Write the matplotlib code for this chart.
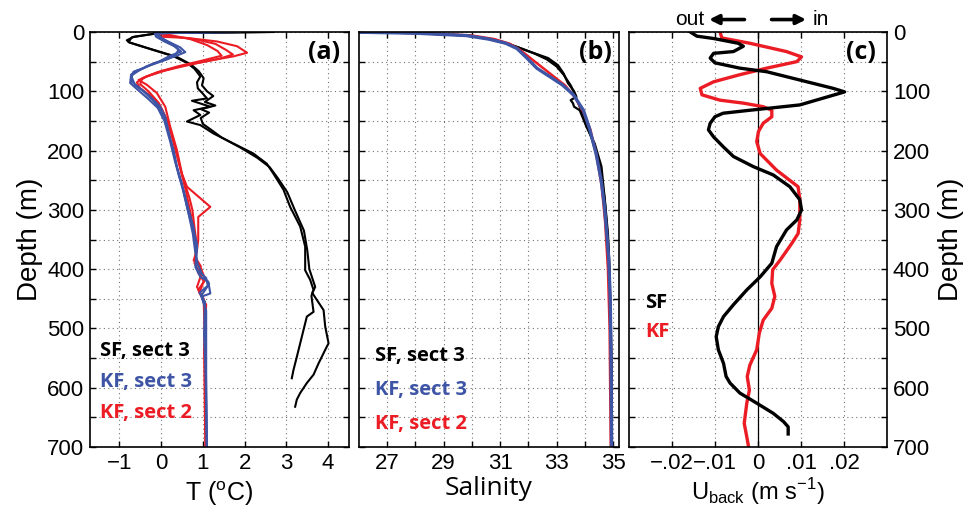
import numpy as np
import matplotlib.pyplot as plt
from matplotlib.ticker import MultipleLocator, FixedLocator, FixedFormatter

RED = '#ec1c24'
BLUE = '#3e55a6'
BLACK = 'k'

# ---- (a) temperature profiles ----
z_t_sf1 = [0, 2, 8, 14, 18, 27, 41, 52, 62, 75, 85, 95, 104, 112, 116, 126, 132, 140, 151, 157, 171, 188, 205, 222, 239, 266, 295, 328, 362, 385, 402, 418, 435, 445, 472, 480, 514, 548, 570, 584]
t_sf1 = [2.70, -0.05, -0.65, -0.82, -0.75, -0.34, 0.30, 0.62, 0.80, 0.94, 0.86, 0.88, 1.00, 1.10, 0.74, 1.18, 0.78, 0.94, 0.62, 0.94, 1.25, 1.73, 2.21, 2.53, 2.69, 2.93, 3.09, 3.33, 3.45, 3.45, 3.45, 3.57, 3.65, 3.60, 3.65, 3.49, 3.37, 3.25, 3.17, 3.13]
z_t_sf2 = [0, 2, 9, 17, 28, 42, 55, 66, 78, 90, 100, 108, 118, 124, 130, 136, 145, 155, 165, 178, 195, 212, 228, 245, 270, 300, 335, 368, 400, 430, 440, 452, 469, 497, 525, 536, 559, 578, 592, 609, 620, 632]
t_sf2 = [2.60, -0.10, -0.70, -0.78, -0.28, 0.38, 0.72, 0.90, 1.02, 0.98, 1.10, 1.25, 1.05, 1.30, 0.95, 1.15, 0.95, 1.00, 1.20, 1.45, 1.90, 2.30, 2.60, 2.78, 3.02, 3.20, 3.42, 3.50, 3.55, 3.69, 3.62, 3.73, 3.89, 3.93, 4.01, 3.93, 3.77, 3.65, 3.49, 3.33, 3.25, 3.21]

z_t_kf3a = [0, 2, 5, 10, 15, 26, 34, 42, 53, 61, 67, 75, 84, 95, 109, 126, 143, 171, 199, 227, 256, 295, 328, 357, 368, 396, 413, 421, 441, 446, 466, 508, 564, 700]
t_kf3a = [1.90, -0.05, -0.10, 0.00, 0.14, 0.46, 0.58, 0.30, -0.18, -0.42, -0.66, -0.70, -0.70, -0.50, -0.26, -0.02, 0.10, 0.18, 0.30, 0.38, 0.50, 0.62, 0.74, 0.86, 0.86, 0.82, 0.94, 1.13, 1.18, 0.98, 1.06, 1.03, 1.06, 1.10]
z_t_kf3b = [0, 2, 6, 12, 20, 30, 38, 46, 56, 66, 72, 80, 90, 100, 115, 130, 150, 180, 210, 240, 270, 300, 330, 360, 380, 400, 415, 428, 440, 455, 480, 550, 700]
t_kf3b = [1.50, -0.10, -0.05, 0.05, 0.25, 0.42, 0.35, 0.15, -0.25, -0.60, -0.72, -0.68, -0.62, -0.42, -0.20, -0.02, 0.12, 0.22, 0.32, 0.42, 0.55, 0.66, 0.78, 0.84, 0.84, 0.85, 1.08, 1.12, 0.92, 1.05, 1.04, 1.07, 1.10]
z_t_kf3c = [0, 3, 8, 16, 25, 33, 40, 50, 58, 66, 74, 86, 98, 112, 128, 150, 185, 220, 260, 300, 340, 372, 392, 408, 425, 445, 470, 600, 700]
t_kf3c = [0.60, -0.15, -0.12, 0.08, 0.35, 0.48, 0.22, -0.05, -0.35, -0.55, -0.72, -0.74, -0.55, -0.32, -0.08, 0.08, 0.22, 0.34, 0.50, 0.64, 0.76, 0.82, 0.88, 0.98, 1.15, 0.96, 1.08, 1.08, 1.09]

z_t_kf2a = [0, 8, 10, 16, 24, 35, 41, 49, 58, 67, 75, 81, 89, 103, 126, 160, 199, 239, 261, 295, 312, 351, 368, 385, 396, 418, 435, 458, 536, 700]
t_kf2a = [-0.10, 0.00, 0.62, 1.34, 1.82, 2.06, 1.74, 1.10, 0.46, -0.02, -0.34, -0.54, -0.34, -0.10, 0.10, 0.22, 0.38, 0.50, 0.62, 1.18, 0.89, 0.89, 0.86, 0.78, 0.94, 1.06, 0.89, 1.06, 1.03, 1.06]
z_t_kf2b = [0, 6, 12, 20, 30, 38, 45, 55, 65, 75, 85, 95, 110, 130, 160, 200, 240, 280, 300, 330, 360, 380, 395, 405, 420, 440, 460, 500, 600, 700]
t_kf2b = [-0.10, 0.10, 0.80, 1.30, 1.55, 1.72, 1.40, 0.70, 0.10, -0.35, -0.58, -0.50, -0.20, 0.02, 0.20, 0.35, 0.50, 0.68, 0.75, 0.80, 0.86, 0.82, 0.95, 0.88, 1.02, 0.92, 1.08, 1.05, 1.06, 1.08]
z_t_kf2c = [0, 5, 12, 22, 32, 40, 48, 58, 68, 78, 88, 100, 120, 150, 190, 230, 270, 310, 350, 375, 390, 410, 430, 450, 520, 700]
t_kf2c = [0.00, 0.20, 0.70, 1.10, 1.35, 1.45, 1.00, 0.40, -0.10, -0.45, -0.50, -0.30, -0.05, 0.15, 0.32, 0.46, 0.60, 0.72, 0.80, 0.84, 0.80, 0.96, 0.86, 1.02, 1.05, 1.07]

# ---- (b) salinity profiles ----
z_s_sf1 = [0, 2, 6, 12, 19, 26, 34, 44, 56, 70, 86, 100, 109, 115, 120, 126, 132, 160, 188, 227, 283, 340, 400, 500, 584]
s_sf1 = [25.5, 28.0, 29.8, 30.6, 31.2, 31.65, 32.1, 32.7, 33.05, 33.25, 33.4, 33.62, 33.70, 33.50, 33.58, 33.62, 33.82, 34.06, 34.35, 34.59, 34.71, 34.82, 34.88, 34.92, 34.92]
z_s_sf2 = [0, 2, 6, 12, 20, 28, 36, 46, 58, 72, 90, 105, 118, 130, 150, 180, 220, 280, 350, 450, 550, 632]
s_sf2 = [25.5, 28.1, 29.9, 30.7, 31.3, 31.75, 32.2, 32.65, 33.0, 33.25, 33.5, 33.65, 33.75, 33.85, 34.0, 34.25, 34.5, 34.7, 34.82, 34.9, 34.95, 34.96]
z_s_kf3 = [0, 2, 6, 12, 19, 28, 44, 61, 75, 89, 106, 132, 160, 205, 250, 295, 340, 384, 450, 550, 700]
s_kf3 = [25.5, 28.0, 29.8, 30.6, 31.2, 31.6, 31.95, 32.3, 32.75, 33.2, 33.6, 33.95, 34.15, 34.4, 34.58, 34.7, 34.78, 34.85, 34.9, 34.93, 34.95]
z_s_kf2 = [0, 2, 6, 12, 20, 30, 45, 60, 75, 90, 110, 135, 165, 210, 260, 320, 400, 500, 600, 700]
s_kf2 = [25.8, 28.3, 30.0, 30.8, 31.35, 31.7, 32.1, 32.5, 32.9, 33.3, 33.65, 33.95, 34.2, 34.42, 34.6, 34.72, 34.82, 34.88, 34.9, 34.92]

# ---- (c) background velocity ----
z_u_sf = [0, 7, 11, 19, 24, 33, 36, 44, 52, 61, 67, 81, 95, 101, 105, 123, 132, 137, 143, 154, 165, 177, 194, 210, 227, 241, 261, 283, 300, 317, 334, 362, 390, 413, 435, 460, 480, 497, 514, 536, 559, 581, 592, 609, 626, 643, 657, 666, 678]
u_sf = [-0.0157, -0.0142, -0.0103, -0.0046, -0.0034, -0.0057, -0.0103, -0.0111, -0.0100, -0.0042, 0.0020, 0.0097, 0.0174, 0.0201, 0.0182, 0.0097, -0.0019, -0.0081, -0.0100, -0.0111, -0.0115, -0.0103, -0.0080, -0.0057, -0.0011, 0.0035, 0.0074, 0.0097, 0.0101, 0.0090, 0.0066, 0.0043, 0.0032, 0.0005, -0.0026, -0.0057, -0.0080, -0.0092, -0.0097, -0.0092, -0.0080, -0.0074, -0.0065, -0.0042, -0.0003, 0.0035, 0.0059, 0.0070, 0.0070]
z_u_kf = [0, 10, 19, 33, 42, 50, 61, 72, 84, 95, 106, 115, 120, 126, 132, 143, 154, 168, 185, 205, 233, 261, 283, 317, 340, 357, 385, 401, 424, 446, 466, 486, 508, 536, 562, 581, 604, 626, 660, 683, 699]
u_kf = [-0.0088, -0.0084, -0.0019, 0.0066, 0.0101, 0.0090, 0.0020, -0.0042, -0.0103, -0.0134, -0.0130, -0.0088, -0.0034, 0.0012, 0.0032, 0.0032, 0.0012, 0.0001, -0.0003, 0.0005, 0.0043, 0.0093, 0.0097, 0.0097, 0.0093, 0.0078, 0.0051, 0.0034, 0.0032, 0.0039, 0.0032, 0.0012, 0.0003, -0.0003, -0.0019, -0.0025, -0.0020, -0.0026, -0.0032, -0.0026, -0.0022]

u_ticks = [-0.02, -0.01, 0, 0.01, 0.02]
u_ticklabels = ['\u2212.02', '\u2212.01', '0', '.01', '.02']

plt.rcParams['font.family'] = ['Liberation Sans', 'DejaVu Sans']
plt.rcParams['font.size'] = 16
plt.rcParams['axes.linewidth'] = 1.2
plt.rcParams['mathtext.fontset'] = 'custom'
plt.rcParams['mathtext.rm'] = 'Liberation Sans'

LBL = dict(family='Open Sans', fontweight='bold', fontsize=14.5)
PANEL = dict(family='Open Sans', fontweight='bold', fontsize=18, ha='right', va='center')

fig = plt.figure(figsize=(9.65, 5.07), dpi=100)
ax_a = fig.add_axes([0.0933, 0.1183, 0.2684, 0.8186])
ax_b = fig.add_axes([0.3720, 0.1183, 0.2691, 0.8186])
ax_c = fig.add_axes([0.6515, 0.1183, 0.2680, 0.8186])


def style_axis(ax):
    ax.set_ylim(700, 0)
    ax.yaxis.set_major_locator(MultipleLocator(100))
    ax.yaxis.set_minor_locator(MultipleLocator(50))
    ax.tick_params(which='both', direction='in', top=True, right=True,
                   length=4, width=1.0, pad=4, labelsize=16)
    ax.grid(True, which='both', ls=(0, (1, 3)), color='0.45', lw=0.8)
    ax.set_axisbelow(True)


# (a)
style_axis(ax_a)
for z, t in [(z_t_sf1, t_sf1), (z_t_sf2, t_sf2)]:
    ax_a.plot(t, z, color=BLACK, lw=1.5)
for z, t in [(z_t_kf2a, t_kf2a), (z_t_kf2b, t_kf2b), (z_t_kf2c, t_kf2c)]:
    ax_a.plot(t, z, color=RED, lw=1.5)
for z, t in [(z_t_kf3a, t_kf3a), (z_t_kf3b, t_kf3b), (z_t_kf3c, t_kf3c)]:
    ax_a.plot(t, z, color=BLUE, lw=1.5)
ax_a.set_xlim(-1.7, 4.5)
ax_a.xaxis.set_major_locator(FixedLocator([-1, 0, 1, 2, 3, 4]))
ax_a.xaxis.set_major_formatter(FixedFormatter(['\u22121', '0', '1', '2', '3', '4']))
ax_a.set_xlabel('T ($^{\\mathrm{o}}$C)', fontsize=18, labelpad=4)
ax_a.set_ylabel('Depth (m)', fontsize=20, labelpad=3)
ax_a.text(0.965, 0.95, '(a)', transform=ax_a.transAxes, **PANEL)
ax_a.text(0.04, 0.232, 'SF, sect 3', transform=ax_a.transAxes, color=BLACK, va='center', **LBL)
ax_a.text(0.04, 0.156, 'KF, sect 3', transform=ax_a.transAxes, color=BLUE, va='center', **LBL)
ax_a.text(0.04, 0.082, 'KF, sect 2', transform=ax_a.transAxes, color=RED, va='center', **LBL)

# (b)
style_axis(ax_b)
ax_b.plot(s_sf1, z_s_sf1, color=BLACK, lw=1.6)
ax_b.plot(s_sf2, z_s_sf2, color=BLACK, lw=1.6)
ax_b.plot(s_kf2, z_s_kf2, color=RED, lw=1.8)
ax_b.plot(s_kf3, z_s_kf3, color=BLUE, lw=2.4)
ax_b.set_xlim(26, 35.2)
ax_b.xaxis.set_major_locator(FixedLocator([27, 29, 31, 33, 35]))
ax_b.xaxis.set_minor_locator(FixedLocator([28, 30, 32, 34]))
ax_b.set_yticklabels([])
ax_b.set_xlabel('Salinity', family='Open Sans', fontsize=19, labelpad=2)
ax_b.text(0.975, 0.95, '(b)', transform=ax_b.transAxes, **PANEL)
ax_b.text(0.06, 0.219, 'SF, sect 3', transform=ax_b.transAxes, color=BLACK, va='center', **LBL)
ax_b.text(0.06, 0.137, 'KF, sect 3', transform=ax_b.transAxes, color=BLUE, va='center', **LBL)
ax_b.text(0.06, 0.055, 'KF, sect 2', transform=ax_b.transAxes, color=RED, va='center', **LBL)

# (c)
style_axis(ax_c)
ax_c.axvline(0, color='k', lw=0.9)
ax_c.plot(u_kf, z_u_kf, color=RED, lw=2.4)
ax_c.plot(u_sf, z_u_sf, color=BLACK, lw=2.4)
ax_c.set_xlim(-0.03, 0.03)
ax_c.xaxis.set_major_locator(FixedLocator(u_ticks))
ax_c.xaxis.set_major_formatter(FixedFormatter(u_ticklabels))
ax_c.yaxis.tick_right()
ax_c.tick_params(which='both', left=True)
ax_c.yaxis.set_label_position('right')
ax_c.set_ylabel('Depth (m)', fontsize=20, labelpad=6)
ax_c.set_xlabel('U$_{\\mathrm{back}}$ (m s$^{\\mathrm{-1}}$)', fontsize=17, labelpad=2)
ax_c.text(0.955, 0.95, '(c)', transform=ax_c.transAxes, **PANEL)
ax_c.text(0.065, 0.347, 'SF', transform=ax_c.transAxes, color=BLACK, va='center', **LBL)
ax_c.text(0.065, 0.277, 'KF', transform=ax_c.transAxes, color=RED, va='center', **LBL)

# flow direction arrows above panel (c)
ytop = 1.03
ax_c.annotate('', xy=(-0.0120, ytop), xytext=(-0.0025, ytop),
              xycoords=('data', 'axes fraction'), textcoords=('data', 'axes fraction'),
              arrowprops=dict(arrowstyle='-|>', color='k', lw=2.6, mutation_scale=14),
              annotation_clip=False)
ax_c.annotate('', xy=(0.0118, ytop), xytext=(0.0025, ytop),
              xycoords=('data', 'axes fraction'), textcoords=('data', 'axes fraction'),
              arrowprops=dict(arrowstyle='-|>', color='k', lw=2.6, mutation_scale=14),
              annotation_clip=False)
ax_c.text(-0.0124, ytop, 'out', transform=ax_c.get_xaxis_transform(), ha='right', va='center', fontsize=15)
ax_c.text(0.0126, ytop, 'in', transform=ax_c.get_xaxis_transform(), ha='left', va='center', fontsize=15)

fig.savefig('out.png', dpi=100)
